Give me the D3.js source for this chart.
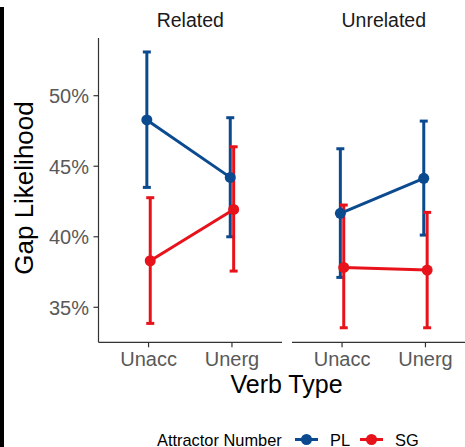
<!DOCTYPE html>
<html>
<head>
<meta charset="utf-8">
<script src="https://cdn.jsdelivr.net/npm/d3@7"></script>
<style>
  html, body { margin: 0; padding: 0; background: #fff; }
  svg { display: block; font-family: "Liberation Sans", Arial, sans-serif; }
</style>
</head>
<body>
<svg id="chart" width="465" height="447"></svg>
<script>
// ---- data ----
const verbTypes = ["Unacc", "Unerg"];
const panels = ["Related", "Unrelated"];
const numbers = ["PL", "SG"];
const yTicks = [35, 40, 45, 50];

const relatedPLMean = [48.28, 44.21];
const relatedPLLow  = [43.5, 40.0];
const relatedPLHigh = [53.1, 48.44];
const relatedSGMean = [38.3, 41.94];
const relatedSGLow  = [33.86, 37.57];
const relatedSGHigh = [42.77, 46.38];

const unrelatedPLMean = [41.66, 44.14];
const unrelatedPLLow  = [37.12, 40.12];
const unrelatedPLHigh = [46.24, 48.2];
const unrelatedSGMean = [37.83, 37.64];
const unrelatedSGLow  = [33.55, 33.55];
const unrelatedSGHigh = [42.25, 41.73];

const colors = { PL: "#0b4a8f", SG: "#e8121b" };

// table built from arrays
const seriesByPanel = {
  Related: [
    { num: "PL", mean: relatedPLMean, lo: relatedPLLow, hi: relatedPLHigh },
    { num: "SG", mean: relatedSGMean, lo: relatedSGLow, hi: relatedSGHigh }
  ],
  Unrelated: [
    { num: "PL", mean: unrelatedPLMean, lo: unrelatedPLLow, hi: unrelatedPLHigh },
    { num: "SG", mean: unrelatedSGMean, lo: unrelatedSGLow, hi: unrelatedSGHigh }
  ]
};

const svg = d3.select("#chart");
svg.append("rect").attr("width", 465).attr("height", 447).attr("fill", "#fff");
// black edge on the left
svg.append("rect").attr("x", 0).attr("y", 7).attr("width", 4).attr("height", 440).attr("fill", "#000");

const yTop = 38, yBottom = 342.3;
const y = d3.scaleLinear().domain([32.52, 54.09]).range([yBottom, yTop]);

const panelX = { Related: [98.5, 282], Unrelated: [292, 475.5] };
const dodge = { PL: -1.7, SG: 1.7 };

// y axis (left panel only)
const yAxisG = svg.append("g").attr("transform", "translate(98.5,0)");
yAxisG.append("line").attr("x1", 0).attr("x2", 0).attr("y1", yTop).attr("y2", yBottom)
  .attr("stroke", "#333").attr("stroke-width", 1.2);
yTicks.forEach(t => {
  yAxisG.append("line").attr("x1", -5).attr("x2", 0).attr("y1", y(t)).attr("y2", y(t))
    .attr("stroke", "#333").attr("stroke-width", 1.2);
  yAxisG.append("text").attr("x", -9.5).attr("y", y(t) + 7.5)
    .attr("text-anchor", "end").attr("font-size", 20).attr("fill", "#595959")
    .text(t + "%");
});

// y title
svg.append("text")
  .attr("transform", `translate(33,188) rotate(-90)`)
  .attr("text-anchor", "middle").attr("font-size", 26).attr("fill", "#000")
  .text("Gap Likelihood");

panels.forEach(p => {
  const [x0, x1] = panelX[p];
  const x = d3.scalePoint().domain(verbTypes).range([x0, x1]).padding(0.6);
  const g = svg.append("g");

  // strip label
  g.append("text").attr("x", (x0 + x1) / 2).attr("y", 27)
    .attr("text-anchor", "middle").attr("font-size", 19.5).attr("fill", "#1a1a1a")
    .text(p);

  // x axis
  g.append("line").attr("x1", x0).attr("x2", x1).attr("y1", yBottom).attr("y2", yBottom)
    .attr("stroke", "#333").attr("stroke-width", 1.2);
  verbTypes.forEach(v => {
    g.append("line").attr("x1", x(v)).attr("x2", x(v)).attr("y1", yBottom).attr("y2", yBottom + 5)
      .attr("stroke", "#333").attr("stroke-width", 1.2);
    g.append("text").attr("x", x(v)).attr("y", 366)
      .attr("text-anchor", "middle").attr("font-size", 20).attr("fill", "#595959")
      .text(v);
  });

  const series = seriesByPanel[p];
  // error bars
  series.forEach(s => {
    verbTypes.forEach((v, i) => {
      const cx = x(v) + dodge[s.num];
      g.append("line").attr("x1", cx).attr("x2", cx).attr("y1", y(s.lo[i])).attr("y2", y(s.hi[i]))
        .attr("stroke", colors[s.num]).attr("stroke-width", 3);
      [s.lo[i], s.hi[i]].forEach(val => {
        g.append("line").attr("x1", cx - 4).attr("x2", cx + 4).attr("y1", y(val)).attr("y2", y(val))
          .attr("stroke", colors[s.num]).attr("stroke-width", 3);
      });
    });
  });
  // lines
  series.forEach(s => {
    const line = d3.line().x((d, i) => x(verbTypes[i]) + dodge[s.num]).y(d => y(d));
    g.append("path").attr("d", line(s.mean)).attr("fill", "none")
      .attr("stroke", colors[s.num]).attr("stroke-width", 3);
  });
  // points
  series.forEach(s => {
    s.mean.forEach((m, i) => {
      g.append("circle").attr("cx", x(verbTypes[i]) + dodge[s.num]).attr("cy", y(m)).attr("r", 5.5)
        .attr("fill", colors[s.num]);
    });
  });
});

// x title
svg.append("text").attr("x", 286.5).attr("y", 393)
  .attr("text-anchor", "middle").attr("font-size", 25).attr("fill", "#000")
  .text("Verb Type");

// legend
const lg = svg.append("g");
lg.append("text").attr("x", 157).attr("y", 445.5).attr("font-size", 16.4).attr("fill", "#000")
  .text("Attractor Number");
const keyX = { PL: 295, SG: 360 };
numbers.forEach(n => {
  const kx = keyX[n];
  lg.append("line").attr("x1", kx).attr("x2", kx + 23).attr("y1", 439.5).attr("y2", 439.5)
    .attr("stroke", colors[n]).attr("stroke-width", 3);
  lg.append("circle").attr("cx", kx + 11.5).attr("cy", 439.5).attr("r", 5.5).attr("fill", colors[n]);
  lg.append("text").attr("x", kx + 35).attr("y", 445.5).attr("font-size", 16.4).attr("fill", "#000")
    .text(n);
});
</script>
</body>
</html>
